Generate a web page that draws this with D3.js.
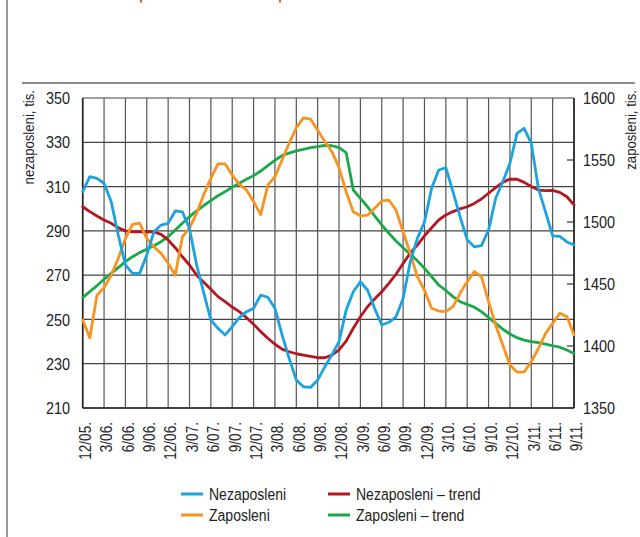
<!DOCTYPE html>
<html><head><meta charset="utf-8">
<script src="https://cdn.jsdelivr.net/npm/d3@7/dist/d3.min.js"></script>
<style>
html,body{margin:0;padding:0;background:#fff;}
svg text{font-family:"Liberation Sans","Arial",sans-serif;fill:#222;}
</style></head>
<body>
<svg id="c" width="640" height="537"></svg>
<script>
const quarterLabels = ["12/05.","3/06.","6/06.","9/06.","12/06.","3/07.","6/07.","9/07.","12/07.","3/08.","6/08.","9/08.","12/08.","3/09.","6/09.","9/09.","12/09.","3/10.","6/10.","9/10.","12/10.","3/11.","6/11.","9/11."];
const leftTicks = [210,230,250,270,290,310,330,350];
const rightTicks = [1350,1400,1450,1500,1550,1600];

const nezaposleni = [307.7,314.5,313.7,311.5,303.2,288.1,274.6,270.8,270.8,279.1,
289.6,292.6,293.4,299,298.6,291,274.6,262,249.7,246,
243,246.7,250.8,253.5,255,261,260,255,243,232.4,
222.6,219.6,219.3,222.6,228.6,234,240,254.2,262.5,267,
263.3,255,247.5,248.7,251.2,259.5,276,286.6,294,309.2,
317.5,318.5,307.7,296.4,285.9,282.8,283.3,290.4,304.7,312.2,
320.5,334,336.3,329.5,309.2,298.6,287.7,287.5,285,283.6];

const zaposleni = [1421,1406.7,1441,1447,1457,1470.7,1486.8,1498,1499,1486.8,
1480,1474.7,1466.7,1457,1488,1495,1507,1522,1535.2,1546.8,
1546.8,1537.9,1530.4,1525.8,1516.4,1506,1529.8,1536.5,1550,1563.5,
1576,1584,1583,1574,1565,1556.7,1543.8,1524.4,1508.3,1505,
1505.5,1511,1517,1517.7,1509.7,1492,1474.7,1455.9,1445,1430.4,
1428.2,1427.7,1431.7,1442.5,1451.9,1460,1455.9,1435.7,1417,1400.8,
1384.7,1379,1379,1387.3,1398,1410,1418.3,1426.4,1423.7,1409];

const nezaposleniTrend = [300.9,298.7,296.7,294.9,293.4,291.4,290,289.6,289.6,289.6,
289.6,288.4,285.9,282.4,278.3,274.6,270,266.8,263.6,260.3,
258,255.6,253.5,250.8,247.8,244.5,241.5,238.8,236.6,235.4,
234.5,233.9,233.3,232.7,232.7,233.9,236.2,240.2,246,251.2,
255.7,259.2,262.5,266.3,270.4,275.3,279.9,283.6,287.7,291.4,
294.9,297.2,298.7,299.9,300.9,302.4,304.4,307,309.5,311.9,
313.4,313.3,311.9,310,308.4,308.2,308.3,307.4,305.4,301.7];

const zaposleniTrend = [1439,1443.8,1448.6,1453.8,1458.6,1463.2,1468,1472,1475.3,1478,
1480.9,1484.1,1488.1,1493.5,1499,1504.3,1509,1513.3,1517.2,1521.2,
1524.5,1528,1531.2,1534.4,1537.4,1541.1,1545.4,1549.8,1553.5,1555.6,
1557.3,1558.6,1559.9,1560.7,1561.7,1561.5,1560,1556,1525.8,1519,
1512.3,1505,1497.6,1490.9,1484.7,1479.3,1474,1468.8,1462.6,1455.9,
1449.2,1444.8,1439.8,1435.7,1433.6,1431.2,1427.7,1423.1,1418.3,1413.5,
1409.7,1406.7,1404.8,1403.5,1402.7,1401.6,1400.2,1399,1396.8,1394];

const seriesNames = ["Nezaposleni","Zaposleni","Nezaposleni – trend","Zaposleni – trend"];
const colors = {blue:"#1ba3df", orange:"#f7931e", red:"#b3171f", green:"#1aa84a"};

const svg = d3.select("#c");
const L = 82.7, R = 574, T = 98, B = 408;
const SX = 0.85; // condensed look
const x = d3.scaleLinear().domain([0, nezaposleni.length-1]).range([L, R]);
const yL = d3.scaleLinear().domain([210,350]).range([B, T]);
const yR = d3.scaleLinear().domain([1350,1600]).range([B, T]);

// frame decorations
svg.append("rect").attr("width",640).attr("height",537).attr("fill","#fff");
svg.append("line").attr("x1",7).attr("x2",7).attr("y1",0).attr("y2",537).attr("stroke","#777").attr("stroke-width",1.5);
svg.append("line").attr("x1",22).attr("x2",635).attr("y1",83).attr("y2",83).attr("stroke","#666").attr("stroke-width",1.5);
svg.append("rect").attr("x",140).attr("y",0).attr("width",2).attr("height",2.5).attr("fill","#e8503a");
svg.append("rect").attr("x",279).attr("y",0).attr("width",2).attr("height",2.5).attr("fill","#e8503a");

// grid
const g = svg.append("g");
g.selectAll(".hg").data(leftTicks).enter().append("line")
  .attr("x1",L).attr("x2",R).attr("y1",d=>yL(d)).attr("y2",d=>yL(d))
  .attr("stroke","#444").attr("stroke-width",1.2);
const qIdx = quarterLabels.map((d,i)=>i*3);
g.selectAll(".vg").data(qIdx).enter().append("line")
  .attr("x1",d=>x(d)).attr("x2",d=>x(d)).attr("y1",T).attr("y2",B)
  .attr("stroke","#555").attr("stroke-width",1.2);

// axes frame
svg.append("line").attr("x1",L).attr("x2",L).attr("y1",T).attr("y2",B).attr("stroke","#222").attr("stroke-width",1.6);
svg.append("line").attr("x1",R).attr("x2",R).attr("y1",T).attr("y2",B).attr("stroke","#222").attr("stroke-width",1.6);
svg.append("line").attr("x1",L).attr("x2",R).attr("y1",B).attr("y2",B).attr("stroke","#222").attr("stroke-width",1.6);
svg.selectAll(".rt").data(rightTicks.slice(1,-1)).enter().append("line")
  .attr("x1",R-7).attr("x2",R).attr("y1",d=>yR(d)).attr("y2",d=>yR(d))
  .attr("stroke","#333").attr("stroke-width",1.2);

// tick labels
svg.selectAll(".lt").data(leftTicks).enter().append("text")
  .attr("transform",d=>`translate(70,${yL(d)}) scale(${SX},1)`).attr("dy","0.36em").attr("text-anchor","end")
  .style("font-size","17px").text(d=>d);
svg.selectAll(".rtl").data(rightTicks).enter().append("text")
  .attr("transform",d=>`translate(583,${yR(d)}) scale(${SX},1)`).attr("dy","0.36em").attr("text-anchor","start")
  .style("font-size","17px").text(d=>d);
svg.selectAll(".xt").data(quarterLabels).enter().append("text")
  .attr("transform",(d,i)=>`translate(${x(i*3)+2.5},422) rotate(-90) scale(${SX},1)`)
  .attr("dy","0.36em").attr("text-anchor","end")
  .style("font-size","16px").text(d=>d);

// axis titles
svg.append("text").attr("transform",`translate(28,90) rotate(-90) scale(${SX},1)`).attr("dy","0.36em")
  .attr("text-anchor","end").style("font-size","15.5px").text("nezaposleni, tis.");
svg.append("text").attr("transform",`translate(630,90) rotate(-90) scale(${SX},1)`).attr("dy","0.36em")
  .attr("text-anchor","end").style("font-size","15.5px").text("zaposleni, tis.");

// lines
const lineL = d3.line().x((d,i)=>x(i)).y(d=>yL(d));
const lineR = d3.line().x((d,i)=>x(i)).y(d=>yR(d));
function draw(data, gen, color){
  svg.append("path").datum(data).attr("d",gen).attr("fill","none")
    .attr("stroke",color).attr("stroke-width",2.8).attr("stroke-linejoin","round").attr("stroke-linecap","round");
}
draw(zaposleniTrend, lineR, colors.green);
draw(nezaposleniTrend, lineL, colors.red);
draw(zaposleni, lineR, colors.orange);
draw(nezaposleni, lineL, colors.blue);

// legend
const legend = [
  {name:seriesNames[0], color:colors.blue, x:181, y:494},
  {name:seriesNames[1], color:colors.orange, x:181, y:515},
  {name:seriesNames[2], color:colors.red, x:328, y:494},
  {name:seriesNames[3], color:colors.green, x:328, y:515}
];
const lg = svg.selectAll(".lg").data(legend).enter().append("g");
lg.append("line").attr("x1",d=>d.x).attr("x2",d=>d.x+22).attr("y1",d=>d.y).attr("y2",d=>d.y)
  .attr("stroke",d=>d.color).attr("stroke-width",3);
lg.append("text").attr("transform",d=>`translate(${d.x+28},${d.y}) scale(${SX},1)`).attr("dy","0.36em")
  .style("font-size","16.5px").text(d=>d.name);
</script>
</body></html>
